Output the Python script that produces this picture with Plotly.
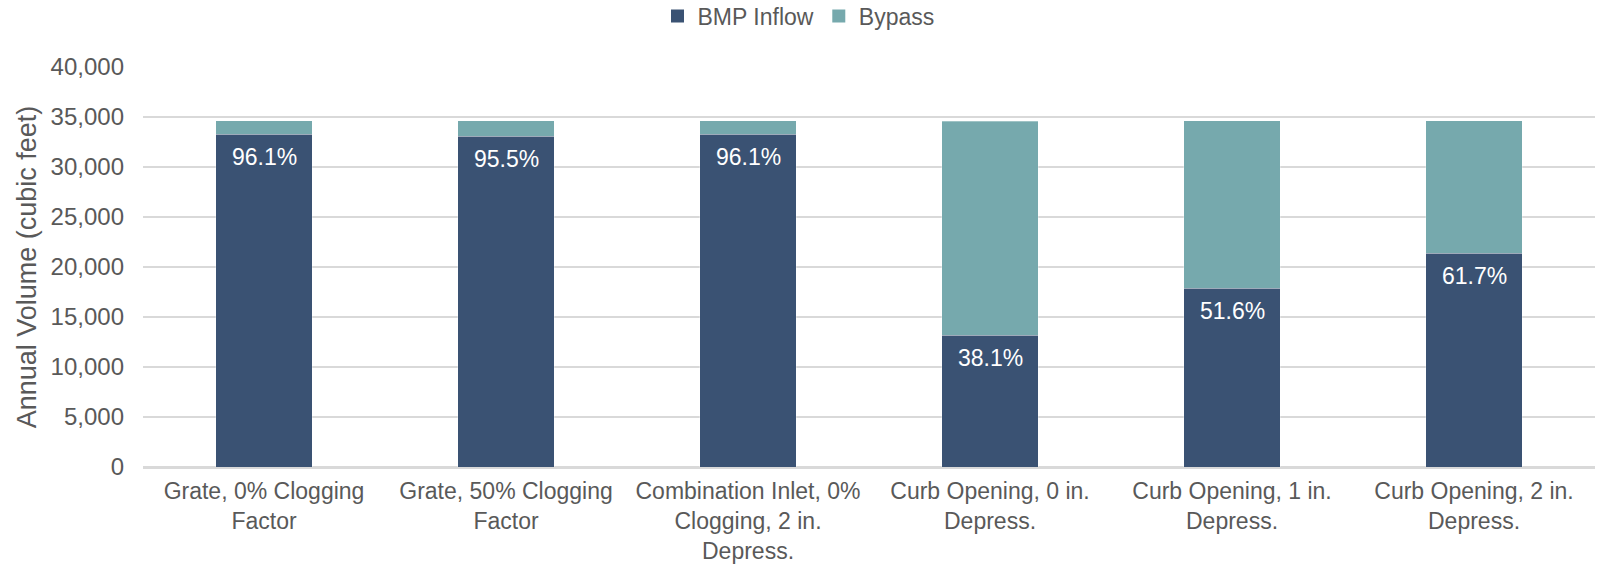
import plotly.graph_objects as go

# Inlet configurations (x-axis categories, wrapped for display)
categories = [
    "Grate, 0% Clogging<br>Factor",
    "Grate, 50% Clogging<br>Factor",
    "Combination Inlet, 0%<br>Clogging, 2 in.<br>Depress.",
    "Curb Opening, 0 in.<br>Depress.",
    "Curb Opening, 1 in.<br>Depress.",
    "Curb Opening, 2 in.<br>Depress.",
]

# Total annual runoff volume reaching each inlet (cubic feet)
total_volume = [34650, 34650, 34650, 34600, 34650, 34650]

# Share of the runoff captured as BMP inflow (%)
capture_pct = [96.1, 95.5, 96.1, 38.1, 51.6, 61.7]

y_ticks = [0, 5000, 10000, 15000, 20000, 25000, 30000, 35000, 40000]

bmp_inflow = [t * p / 100 for t, p in zip(total_volume, capture_pct)]
bypass = [t - b for t, b in zip(total_volume, bmp_inflow)]

DARK = "#3A5273"
TEAL = "#76A9AD"
TEXT = "#595959"
GRID = "#D9D9D9"
FONT = "Liberation Sans, Arial, sans-serif"

fig = go.Figure()
fig.add_trace(go.Bar(
    x=categories, y=bmp_inflow, name="BMP Inflow", showlegend=False,
    marker=dict(color=DARK, line=dict(color="rgba(255,255,255,0.6)", width=0.5)),
))
fig.add_trace(go.Bar(
    x=categories, y=bypass, name="Bypass", showlegend=False,
    marker=dict(color=TEAL, line=dict(color="rgba(255,255,255,0.6)", width=0.5)),
))

# Legend entries drawn as plain square swatches
for name, color in [("BMP Inflow", DARK), ("Bypass", TEAL)]:
    fig.add_trace(go.Scatter(
        x=[None], y=[None], mode="markers", name=name,
        marker=dict(symbol="square", size=13, color=color),
    ))

# Capture percentage printed just inside the top of each BMP Inflow segment
for cat, val, pct in zip(categories, bmp_inflow, capture_pct):
    fig.add_annotation(
        x=cat, y=val, text=f"{pct:.1f}%", showarrow=False,
        yanchor="top", yshift=-8,
        font=dict(family=FONT, size=23, color="white"),
    )

fig.update_layout(
    barmode="stack",
    bargap=0.6,
    width=1597, height=567,
    margin=dict(l=143, r=2, t=67, b=100),
    paper_bgcolor="white", plot_bgcolor="white",
    font=dict(family=FONT, color=TEXT),
    legend=dict(
        orientation="h", x=0.5, xref="container", xanchor="center",
        y=1 - 16 / 567, yref="container", yanchor="middle",
        font=dict(family=FONT, size=23, color=TEXT),
        itemwidth=30, traceorder="normal", tracegroupgap=0,
    ),
    showlegend=True,
)

fig.update_xaxes(
    tickfont=dict(family=FONT, size=23, color=TEXT),
    tickangle=0,
    automargin=False,
    ticklabelstandoff=3,
    showline=True, linecolor=GRID, linewidth=1.5,
    ticks="", showgrid=False,
)
fig.update_yaxes(
    range=[0, 40000], tickvals=y_ticks,
    ticktext=[f"{v:,}" for v in y_ticks],
    tickfont=dict(family=FONT, size=24, color=TEXT),
    ticklabelstandoff=18,
    automargin=False,
    showgrid=True, gridcolor=GRID, gridwidth=1.5,
    zeroline=True, zerolinecolor=GRID, zerolinewidth=1.5,
    title=dict(text="Annual Volume (cubic feet)",
               font=dict(family=FONT, size=27, color=TEXT), standoff=6),
)

fig.write_html("out.html")
